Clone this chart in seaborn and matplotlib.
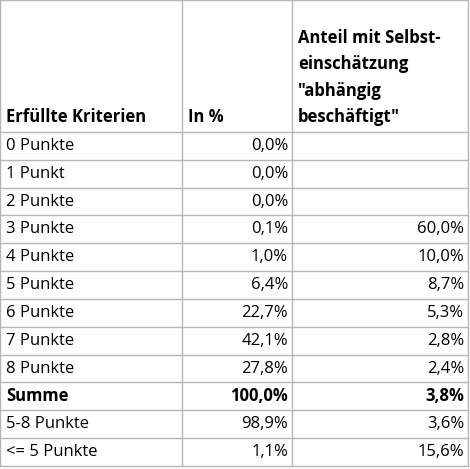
import matplotlib
matplotlib.use("Agg")
import matplotlib.pyplot as plt
import seaborn as sns

sns.set_theme(style="white")
plt.rcParams['font.family'] = ['Open Sans', 'DejaVu Sans']

headers = ["Erfüllte Kriterien", "In %", "Anteil mit Selbst-\neinschätzung\n\"abhängig\nbeschäftigt\""]
categories = ["0 Punkte", "1 Punkt", "2 Punkte", "3 Punkte", "4 Punkte", "5 Punkte",
              "6 Punkte", "7 Punkte", "8 Punkte", "Summe", "5-8 Punkte", "<= 5 Punkte"]
in_pct = ["0,0%", "0,0%", "0,0%", "0,1%", "1,0%", "6,4%", "22,7%", "42,1%", "27,8%",
          "100,0%", "98,9%", "1,1%"]
anteil = ["", "", "", "60,0%", "10,0%", "8,7%", "5,3%", "2,8%", "2,4%", "3,8%", "3,6%", "15,6%"]
bold_rows = ["Summe"]

fig = plt.figure(figsize=(4.70, 4.69), dpi=100)
ax = fig.add_axes([0, 0, 1, 1])
ax.set_xlim(0, 470)
ax.set_ylim(469, 0)
ax.axis("off")

col_x = [0, 182, 292, 468]
header_h = 132
row_h = (466 - header_h) / len(categories)
line_c = "#b5b5b5"

ys = [0, header_h] + [header_h + row_h * (i + 1) for i in range(len(categories))]
for y in ys:
    ax.plot([0, 468], [y, y], color=line_c, lw=1)
for x in col_x:
    ax.plot([x, x], [0, ys[-1]], color=line_c, lw=1)

fs = 12
ax.text(col_x[0] + 6, header_h - 6, headers[0], fontsize=fs, fontweight="bold", va="bottom", ha="left", color="black")
ax.text(col_x[1] + 6, header_h - 6, headers[1], fontsize=fs, fontweight="bold", va="bottom", ha="left", color="black")
ax.text(col_x[2] + 6, header_h - 6, headers[2], fontsize=fs, fontweight="bold", va="bottom", ha="left",
        linespacing=1.6, color="black")

for i, (c, p, a) in enumerate(zip(categories, in_pct, anteil)):
    yc = header_h + row_h * (i + 0.5)
    w = "bold" if c in bold_rows else "normal"
    ax.text(col_x[0] + 6, yc, c, fontsize=fs, fontweight=w, va="center", ha="left", color="black")
    ax.text(col_x[2] - 4, yc, p, fontsize=fs, fontweight=w, va="center", ha="right", color="black")
    ax.text(col_x[3] - 4, yc, a, fontsize=fs, fontweight=w, va="center", ha="right", color="black")

fig.savefig("out.png", dpi=100)
